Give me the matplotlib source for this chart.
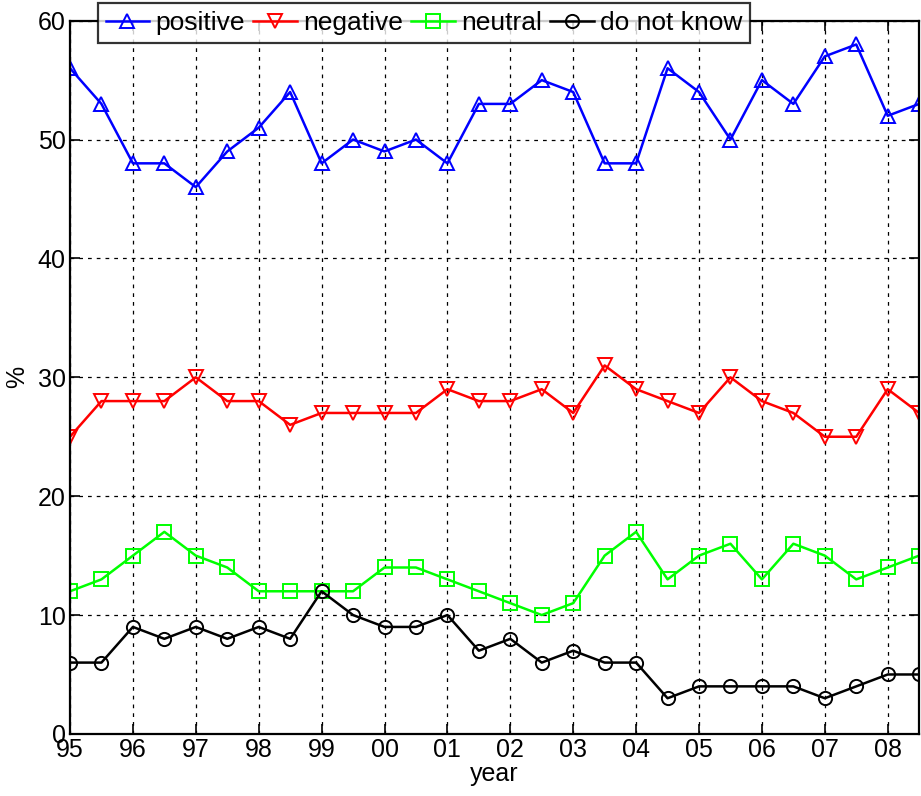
import matplotlib
matplotlib.use("Agg")
import matplotlib.pyplot as plt
import numpy as np

plt.rcParams['font.family'] = ['Liberation Sans', 'DejaVu Sans']

# Half-yearly survey points, 1995 .. mid-2008
year_labels = ['95', '96', '97', '98', '99', '00', '01', '02',
               '03', '04', '05', '06', '07', '08']

positive = [56, 53, 48, 48, 46, 49, 51, 54, 48, 50, 49, 50, 48, 53,
            53, 55, 54, 48, 48, 56, 54, 50, 55, 53, 57, 58, 52, 53]
negative = [25, 28, 28, 28, 30, 28, 28, 26, 27, 27, 27, 27, 29, 28,
            28, 29, 27, 31, 29, 28, 27, 30, 28, 27, 25, 25, 29, 27]
neutral = [12, 13, 15, 17, 15, 14, 12, 12, 12, 12, 14, 14, 13, 12,
           11, 10, 11, 15, 17, 13, 15, 16, 13, 16, 15, 13, 14, 15]
dont_know = [6, 6, 9, 8, 9, 8, 9, 8, 12, 10, 9, 9, 10, 7,
             8, 6, 7, 6, 6, 3, 4, 4, 4, 4, 3, 4, 5, 5]

x = np.arange(len(positive))

fig = plt.figure(figsize=(9.21, 7.96), dpi=100)
ax = fig.add_axes([0.076, 0.078, 0.922, 0.896])

ms = 9.5
style = dict(lw=1.8, ms=ms, mfc='none', mew=1.4)
ax.plot(x, positive, color='#0000ff', marker='^', mec='#0000ff',
        label='positive', **style)
ax.plot(x, negative, color='#ff0000', marker='v', mec='#ff0000',
        label='negative', **style)
ax.plot(x, neutral, color='#00ff00', marker='s', mec='#00ff00',
        label='neutral', **style)
ax.plot(x, dont_know, color='black', marker='o', mec='black',
        label='do not know', **style)

ax.set_xlim(0, len(positive) - 1)
ax.set_ylim(0, 60)
ax.set_xticks(np.arange(0, len(positive), 2))
ax.set_xticklabels(year_labels)
ax.set_yticks(np.arange(0, 61, 10))

ax.grid(True, color='black', linestyle=(0, (3, 4)), linewidth=0.9)
ax.tick_params(axis='both', direction='in', length=7, width=1.2,
               labelsize=18, top=True, right=True, pad=3)
for sp in ax.spines.values():
    sp.set_linewidth(1.6)

ax.set_xlabel('year', fontsize=18, labelpad=0)
ax.set_ylabel('%', fontsize=18, labelpad=6)

leg = fig.legend(loc='upper left', bbox_to_anchor=(0.106, 0.996),
                 ncol=4, fontsize=19, frameon=True, fancybox=False,
                 edgecolor='black', handlelength=1.65, columnspacing=0.3,
                 handletextpad=0.25, borderpad=0.3, borderaxespad=0)
leg.get_frame().set_linewidth(1.6)

fig.savefig('out.png', dpi=100)
